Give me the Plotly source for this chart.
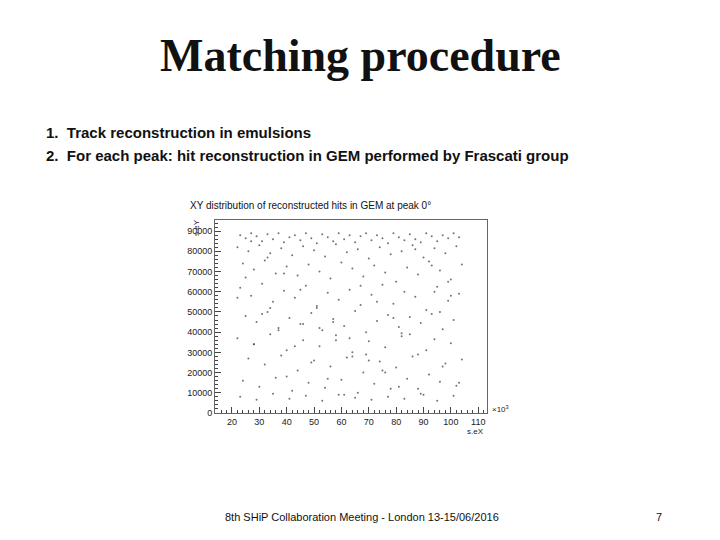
import plotly.graph_objects as go

# hit positions read (approximately) from the picture, x in units of 10^3
hit_x = [23,25,27,29,31,33,35,37,39,41,43,45,47,49,51,53,55,57,59,61,63,65,67,69,71,73,75,77,79,81,83,85,87,89,91,93,95,97,99,101,103,
         22,26,30,34,38,42,46,50,54,58,62,66,70,74,78,82,86,90,94,98,102,
         24,28,32,36,40,44,48,52,56,60,64,68,72,76,80,84,88,92,96,100,104,
         23,27,31,35,39,43,47,51,55,59,63,67,71,75,79,83,87,91,95,99,103,
         25,29,33,37,41,45,49,53,57,61,65,69,73,77,81,85,89,93,97,101,
         22,28,34,40,46,52,58,64,70,76,82,88,94,100,
         26,32,38,44,50,56,62,68,74,80,86,92,98,104,
         24,30,36,42,48,54,60,66,72,78,84,90,96,102,
         23,29,35,41,47,53,59,65,71,77,83,89,95,101,
         27,33,39,45,51,57,63,69,75,81,87,93,99,
         22,31,37,43,49,55,61,67,73,79,85,91,97,103,
         25,34,46,58,64,76,88,94,100,
         28,40,52,70,82,96]
hit_y = [88000,86500,89000,87500,85000,88500,86000,89000,84500,87000,88000,85500,89000,86500,84000,88500,87000,85000,89000,86000,88000,84500,87500,89000,85500,88000,86500,84000,89000,87000,85500,88500,86000,84500,89000,87500,85000,88000,86500,89000,87000,
         82000,80000,83000,79000,81500,78000,82500,80500,77500,83500,79500,81000,76500,82000,78500,80000,83000,77000,81500,79000,82500,
         74000,71000,75500,69000,72500,68000,73500,70000,66500,74500,71500,67500,73000,69500,65000,72000,68500,75000,70500,66000,73500,
         62000,58000,64000,55000,60500,57000,63000,52000,59500,56000,61000,53500,58500,63500,54000,60000,57500,51000,62500,55500,59000,
         48000,45000,50000,42000,47000,44000,49500,41000,46500,43000,50500,40000,45500,48500,42500,47500,44500,49000,41500,46000,
         37000,34000,39000,31000,36000,33000,38500,30000,35500,32500,39500,29000,36500,34500,
         27000,24000,28500,21000,26000,23000,27500,20000,25500,22500,28000,19000,24500,26500,
         16000,13000,17500,11000,15000,12500,16500,10000,14500,12000,17000,9000,15500,13500,
         8000,6500,9500,7000,8500,6000,9000,7500,6500,8000,7000,9500,6000,8500,
         85000,77000,69000,61000,53000,45000,37000,29000,21000,13000,81000,73000,65000,
         57000,49000,41000,33000,25000,17000,9000,63000,55000,47000,39000,31000,23000,15000,
         67000,52000,44000,36000,28000,20000,12000,60000,58000,
         34000,18000,42000,26000,38000,50000]
x_ticks = [20,30,40,50,60,70,80,90,100,110]
y_ticks = [0,10000,20000,30000,40000,50000,60000,70000,80000,90000]

OFF = 8  # page offset of the figure in the browser
L, R, T, B = 215 - OFF, 233 + OFF, 220 - OFF, 127 + OFF
fig = go.Figure(go.Scatter(x=hit_x, y=hit_y, mode="markers",
                           marker=dict(size=2, color="#444444", opacity=0.75), showlegend=False))
axfont = dict(family="Liberation Sans", size=9, color="#222")
fig.update_xaxes(range=[13.8, 113.2], tickvals=x_ticks, ticks="inside", ticklen=6, automargin=False,
                 showgrid=False, zeroline=False, showline=True, linecolor="#666", mirror=True,
                 tickfont=axfont, minor=dict(ticks="inside", ticklen=3, dtick=2))
fig.update_yaxes(range=[0, 95500], tickvals=y_ticks, tickformat="d", ticks="inside", ticklen=6, automargin=False,
                 showgrid=False, zeroline=False, showline=True, linecolor="#666", mirror=True,
                 tickfont=axfont, minor=dict(ticks="inside", ticklen=3, dtick=2000))
texts = [
    ("<b>Matching procedure</b>", 360, 55, "center", dict(family="Liberation Serif", size=46, color="#111"), 0),
    ("<b>1.  Track reconstruction in emulsions</b>", 44, 133, "left", dict(family="Liberation Sans", size=15, color="#111"), 0),
    ("<b>2.  For each peak: hit reconstruction in GEM performed by Frascati group</b>", 44, 155, "left", dict(family="Liberation Sans", size=15, color="#111"), 0),
    ("XY distribution of reconstructed hits in GEM at peak 0°", 188, 205, "left", dict(family="Liberation Sans", size=10, color="#111"), 0),
    ("×10<sup>3</sup>", 490, 409, "left", dict(family="Liberation Sans", size=8, color="#222"), 0),
    ("s.eX", 486, 431, "right", dict(family="Liberation Sans", size=8, color="#222"), 0),
    ("s.eY", 196, 228, "center", dict(family="Liberation Sans", size=8, color="#222"), -90),
    ("8th SHiP Collaboration Meeting - London 13-15/06/2016", 362, 517, "center", dict(family="Liberation Sans", size=11, color="#111"), 0),
    ("7", 659, 517, "center", dict(family="Liberation Sans", size=11, color="#111"), 0),
]
pw, ph = 720 - L - R, 540 - T - B
anns = [dict(text=t, x=(x - OFF - L) / pw, y=(540 - B - (y - OFF)) / ph, xref="paper", yref="paper",
             xanchor=xa, yanchor="middle", showarrow=False, font=f, textangle=ang)
        for t, x, y, xa, f, ang in texts]
fig.update_layout(width=720, height=540, plot_bgcolor="white", paper_bgcolor="white",
                  margin=dict(l=L, r=R, t=T, b=B), annotations=anns)
fig.write_html("out.html")
